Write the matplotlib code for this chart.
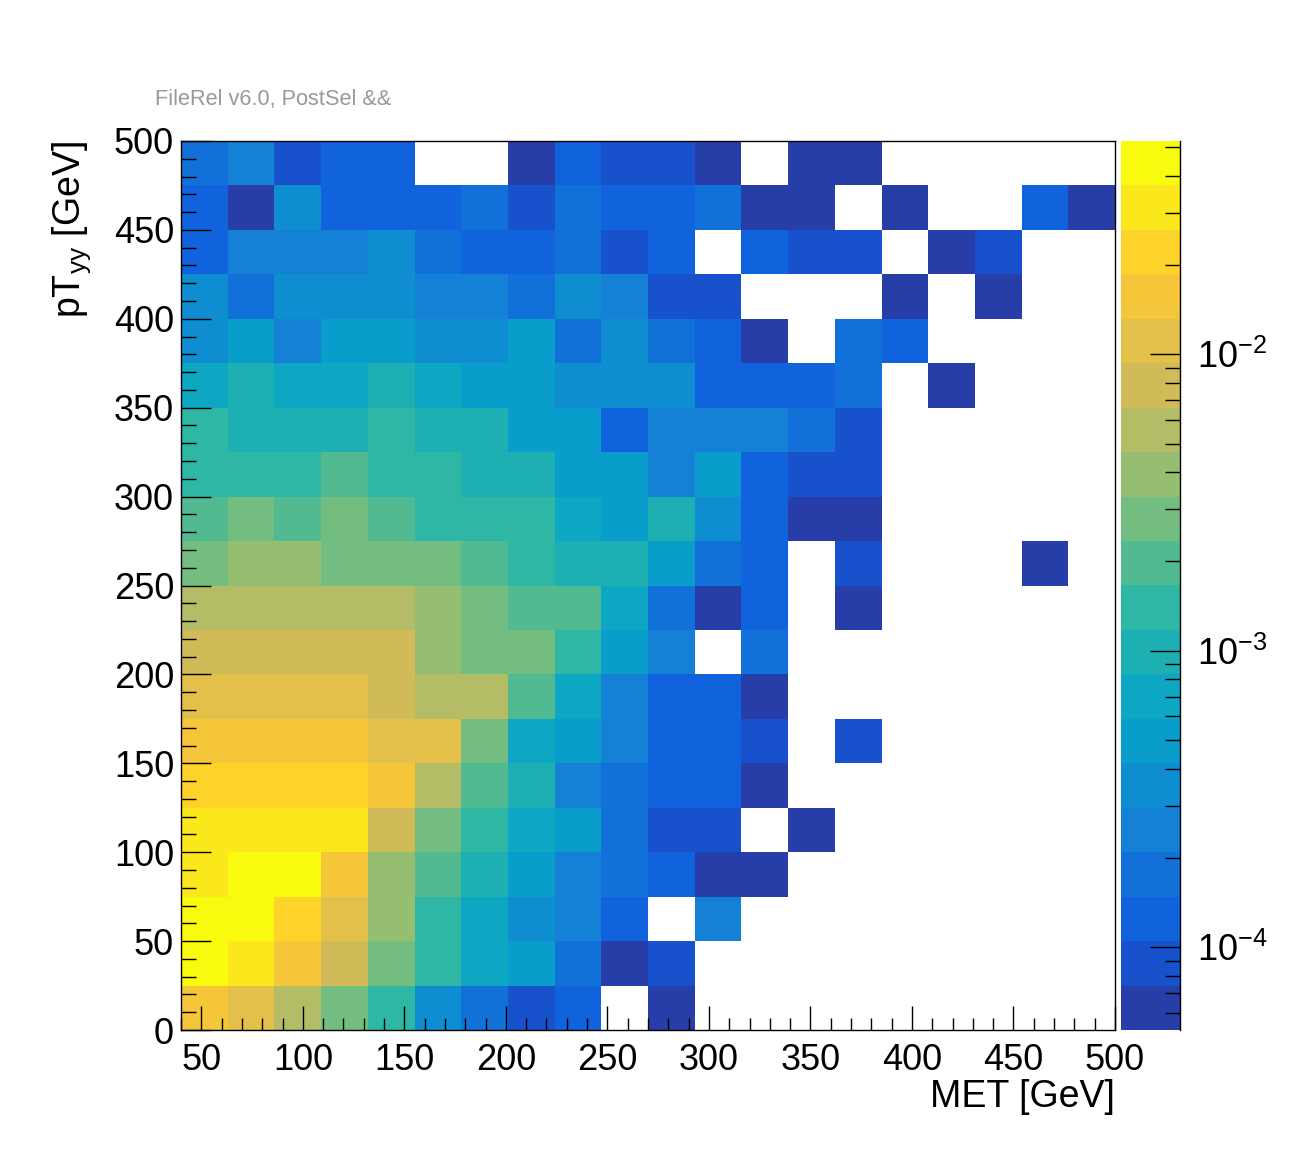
import numpy as np
import matplotlib
matplotlib.use("Agg")
import matplotlib.pyplot as plt
from matplotlib.colors import LinearSegmentedColormap, ListedColormap, LogNorm
from matplotlib.ticker import MultipleLocator, LogLocator, NullFormatter

plt.rcParams['font.family'] = ['Liberation Sans', 'DejaVu Sans']
plt.rcParams['mathtext.fontset'] = 'custom'
plt.rcParams['mathtext.rm'] = 'Liberation Sans'
plt.rcParams['mathtext.it'] = 'Liberation Sans'
plt.rcParams['mathtext.default'] = 'regular'

# --- binning (MET: 20 bins of 23 GeV, pT_yy: 20 bins of 25 GeV) ---
met_edges = np.arange(40, 501, 23)
pt_edges = np.arange(0, 501, 25)

# --- bin contents in units of 1e-4, one list per pT_yy bin (lowest first), 0 = empty ---
z_e4 = [
    [157, 111, 56, 28, 14, 3.5, 1.8, 0.88, 1.2, 0, 0.62, 0, 0, 0, 0, 0, 0, 0, 0, 0],
    [442, 313, 157, 78, 28, 14, 7.0, 5.0, 1.8, 0.62, 0.88, 0, 0, 0, 0, 0, 0, 0, 0, 0],
    [442, 442, 221, 111, 39, 14, 7.0, 3.5, 2.5, 1.2, 0, 2.5, 0, 0, 0, 0, 0, 0, 0, 0],
    [313, 442, 442, 157, 39, 20, 9.9, 5.0, 2.5, 1.8, 1.2, 0.62, 0.62, 0, 0, 0, 0, 0, 0, 0],
    [313, 313, 313, 313, 78, 28, 14, 7.0, 5.0, 1.8, 0.88, 0.88, 0, 0.62, 0, 0, 0, 0, 0, 0],
    [221, 221, 221, 221, 157, 56, 20, 9.9, 2.5, 1.8, 1.2, 1.2, 0.62, 0, 0, 0, 0, 0, 0, 0],
    [157, 157, 157, 157, 111, 111, 28, 7.0, 5.0, 2.5, 1.2, 1.2, 0.88, 0, 0.88, 0, 0, 0, 0, 0],
    [111, 111, 111, 111, 78, 56, 56, 20, 7.0, 2.5, 1.2, 1.2, 0.62, 0, 0, 0, 0, 0, 0, 0],
    [78, 78, 78, 78, 78, 39, 28, 28, 14, 5.0, 2.5, 0, 1.8, 0, 0, 0, 0, 0, 0, 0],
    [56, 56, 56, 56, 56, 39, 28, 20, 20, 7.0, 1.8, 0.62, 1.2, 0, 0.62, 0, 0, 0, 0, 0],
    [28, 39, 39, 28, 28, 28, 20, 14, 9.9, 9.9, 5.0, 1.8, 1.2, 0, 0.88, 0, 0, 0, 0.62, 0],
    [20, 28, 20, 28, 20, 14, 14, 14, 7.0, 5.0, 9.9, 3.5, 1.2, 0.62, 0.62, 0, 0, 0, 0, 0],
    [14, 14, 14, 20, 14, 14, 9.9, 9.9, 5.0, 5.0, 2.5, 5.0, 1.2, 0.88, 0.88, 0, 0, 0, 0, 0],
    [14, 9.9, 9.9, 9.9, 14, 9.9, 9.9, 5.0, 5.0, 1.2, 2.5, 2.5, 2.5, 1.8, 0.88, 0, 0, 0, 0, 0],
    [7.0, 9.9, 7.0, 7.0, 9.9, 7.0, 5.0, 5.0, 3.5, 3.5, 3.5, 1.2, 1.2, 1.2, 1.8, 0, 0.62, 0, 0, 0],
    [3.5, 5.0, 2.5, 5.0, 5.0, 3.5, 3.5, 5.0, 1.8, 3.5, 1.8, 1.2, 0.62, 0, 1.8, 1.2, 0, 0, 0, 0],
    [3.5, 1.8, 3.5, 3.5, 3.5, 2.5, 2.5, 1.8, 3.5, 2.5, 0.88, 0.88, 0, 0, 0, 0.62, 0, 0.62, 0, 0],
    [1.2, 2.5, 2.5, 2.5, 3.5, 1.8, 1.2, 1.2, 1.8, 0.88, 1.2, 0, 1.2, 0.88, 0.88, 0, 0.62, 0.88, 0, 0],
    [1.2, 0.62, 3.5, 1.2, 1.2, 1.2, 1.8, 0.88, 1.8, 1.2, 1.2, 1.8, 0.62, 0.62, 0, 0.62, 0, 0, 1.2, 0.62],
    [1.8, 2.5, 0.88, 1.2, 1.2, 0, 0, 0.62, 1.2, 0.88, 0.88, 0.62, 0, 0.62, 0.62, 0, 0, 0, 0, 0],
]

z_min, z_max = 10**-4.28, 10**-1.28

# --- ROOT kBird palette, 20 contour levels ---
bird_stops = [0.0, 0.125, 0.25, 0.375, 0.5, 0.625, 0.75, 0.875, 1.0]
bird_r = [0.2082, 0.0592, 0.0780, 0.0232, 0.1802, 0.5301, 0.8186, 0.9956, 0.9764]
bird_g = [0.1664, 0.3599, 0.5041, 0.6419, 0.7178, 0.7492, 0.7328, 0.7862, 0.9832]
bird_b = [0.5293, 0.8684, 0.8385, 0.7914, 0.6425, 0.4662, 0.3499, 0.1968, 0.0539]
bird = LinearSegmentedColormap.from_list(
    "bird", list(zip(bird_stops, zip(bird_r, bird_g, bird_b))), N=255)
n_cont = 20
band_colors = [bird(int((i + 0.99) * 255 / n_cont) / 254) for i in range(n_cont)]
cmap = ListedColormap(band_colors)

z = np.ma.masked_less_equal(np.array(z_e4) * 1e-4, 0)

fig = plt.figure(figsize=(12.96, 11.72), dpi=100)
W, H = 1296, 1172
ax = fig.add_axes([181 / W, 1 - 1030 / H, 934 / W, 889 / H])
cax = fig.add_axes([1121 / W, 1 - 1030 / H, 59 / W, 889 / H])

mesh = ax.pcolormesh(met_edges, pt_edges, z, cmap=cmap,
                     norm=LogNorm(vmin=z_min, vmax=z_max),
                     edgecolors='none', antialiased=False)
ax.set_xlim(40, 500)
ax.set_ylim(0, 500)

ax.xaxis.set_major_locator(MultipleLocator(50))
ax.xaxis.set_minor_locator(MultipleLocator(10))
ax.yaxis.set_major_locator(MultipleLocator(50))
ax.yaxis.set_minor_locator(MultipleLocator(10))
ax.tick_params(axis='both', direction='in', top=False, right=False,
               labelsize=26, width=1.0, color='black')
ax.tick_params(axis='x', which='major', length=17.3, pad=9)
ax.tick_params(axis='x', which='minor', length=8.6, direction='in', width=1.0)
ax.tick_params(axis='y', which='major', length=21.6, pad=5)
ax.tick_params(axis='y', which='minor', length=10.8, direction='in', width=1.0)
for sp in ax.spines.values():
    sp.set_linewidth(1.0)

fig.text(1115 / W, 1 - 1107 / H, "MET [GeV]", ha='right', va='baseline', fontsize=27)
fig.text(72 / W, 1 - 141 / H, r"pT$_{yy}$ [GeV]", rotation=90,
         ha='center', va='top', fontsize=27)
fig.text(155 / W, 1 - 105 / H, "FileRel v6.0, PostSel &&", ha='left',
         va='baseline', fontsize=15.7, color='#999999')

cb = fig.colorbar(mesh, cax=cax)
cb.outline.set_visible(False)
cax.plot([1, 1], [0, 1], transform=cax.transAxes, color='black',
         lw=1.0, clip_on=False)
cax.yaxis.set_major_locator(LogLocator(base=10))
cax.yaxis.set_minor_locator(LogLocator(base=10, subs=np.arange(2, 10)))
cax.yaxis.set_minor_formatter(NullFormatter())
cax.tick_params(axis='y', which='both', direction='in', right=True, left=False,
                labelsize=26, width=1.0)
cax.tick_params(axis='y', which='major', length=21.6, pad=12)
cax.tick_params(axis='y', which='minor', length=10.8)

fig.savefig("out.png", dpi=100, facecolor='white')
